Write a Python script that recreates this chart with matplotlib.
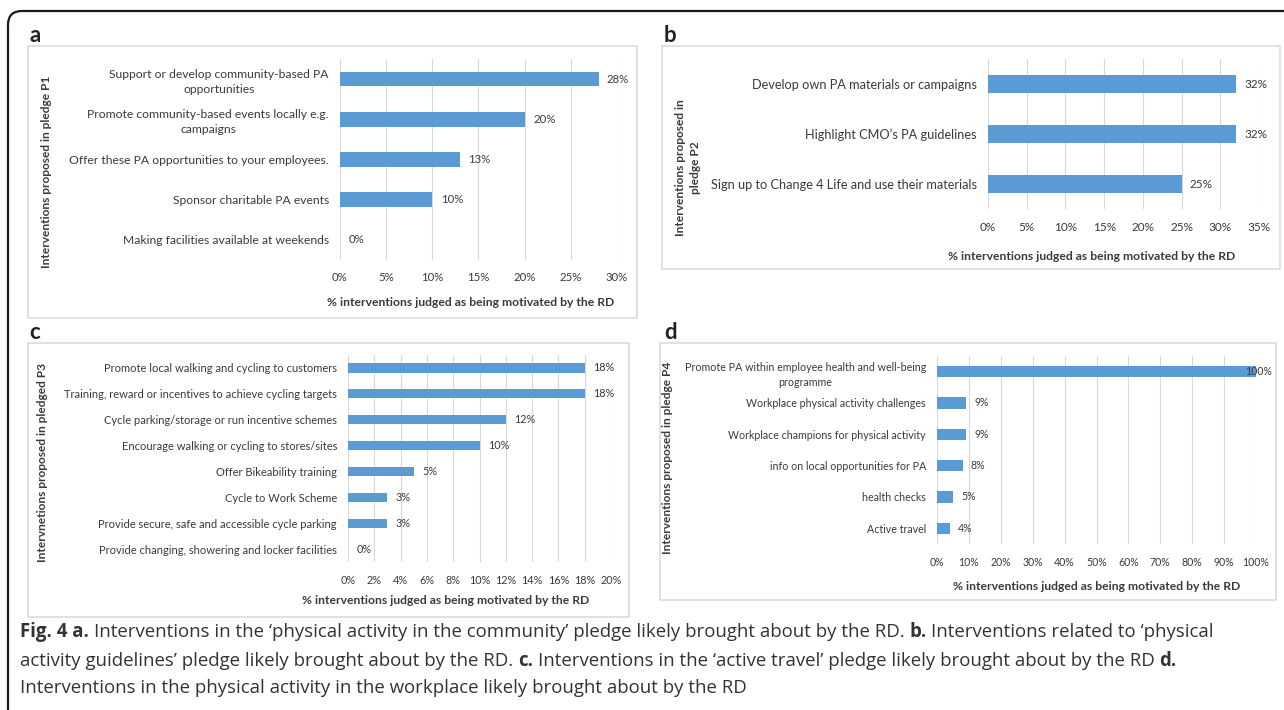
import numpy as np
import matplotlib.pyplot as plt
from matplotlib.patches import Rectangle, FancyBboxPatch
from matplotlib.transforms import IdentityTransform
from matplotlib.ticker import PercentFormatter

# figure is laid out in pixels, origin top-left
W, H = 1284, 710

def fx(px):
    return px / W

def fy(py):
    return 1 - py / H

# a - physical activity in the community (P1)
a_cats = ["Support or develop community-based PA\nopportunities",
          "Promote community-based events locally e.g.\ncampaigns",
          "Offer these PA opportunities to your employees.",
          "Sponsor charitable PA events",
          "Making facilities available at weekends"]
a_vals = [28, 20, 13, 10, 0]

# b - physical activity guidelines (P2)
b_cats = ["Develop own PA materials or campaigns",
          "Highlight CMO\u2019s PA guidelines",
          "Sign up to Change 4 Life and use their materials"]
b_vals = [32, 32, 25]

# c - active travel (P3)
c_cats = ["Promote local walking and cycling to customers",
          "Training, reward or incentives to achieve cycling targets",
          "Cycle parking/storage or run incentive schemes",
          "Encourage walking or cycling to stores/sites",
          "Offer Bikeability training",
          "Cycle to Work Scheme",
          "Provide secure, safe and accessible cycle parking",
          "Provide changing, showering and locker facilities"]
c_vals = [18, 18, 12, 10, 5, 3, 3, 0]

# d - physical activity in the workplace (P4)
d_cats = ["Promote PA within employee health and well-being\nprogramme",
          "Workplace physical activity challenges",
          "Workplace champions for physical activity",
          "info on local opportunities for PA",
          "health checks",
          "Active travel"]
d_vals = [100, 9, 9, 8, 5, 4]

XLAB = "% interventions judged as being motivated by the RD"
BLUE = "#5b9bd5"
GRID = "#d9d9d9"
TXT = "#3a3a3a"
FONT = ["Lato", "DejaVu Sans"]

plt.rcParams['font.family'] = FONT

fig = plt.figure(figsize=(W / 100, H / 100), dpi=100)
fig.patch.set_facecolor("white")


def panel(box, cats, vals, xmax, step, fs, tfs, xlab_x, xlab_y):
    left, top, right, bottom = box
    ax = fig.add_axes([fx(left), fy(bottom), fx(right - left), (bottom - top) / H])
    y = np.arange(len(cats))
    ax.barh(y, vals, height=0.36, color=BLUE, zorder=2)
    ax.set_xlim(0, xmax)
    ax.set_ylim(len(cats) - 0.5, -0.5)
    ax.set_xticks(np.arange(0, xmax + step / 2, step))
    ax.xaxis.set_major_formatter(PercentFormatter(decimals=0))
    ax.set_yticks(y)
    ax.set_yticklabels(cats, multialignment="center", linespacing=1.45)
    ax.grid(axis="x", color=GRID, lw=0.8)
    ax.set_axisbelow(True)
    for s in ax.spines.values():
        s.set_visible(False)
    ax.tick_params(axis="both", length=0, labelcolor=TXT)
    ax.tick_params(axis="y", pad=8, labelsize=fs)
    ax.tick_params(axis="x", pad=9, labelsize=tfs)
    for yi, v in zip(y, vals):
        off = -8 if v >= xmax else 6
        ax.annotate(f"{v}%", (v, yi), xytext=(off, 0), textcoords="offset points",
                    va="center", ha="left", fontsize=tfs, color=TXT)
    fig.text(fx(xlab_x), fy(xlab_y), XLAB, ha="center", va="center",
             fontsize=8.7, fontweight="bold", color=TXT)
    return ax


def frame(x0, y0, x1, y1):
    fig.patches.append(Rectangle((fx(x0), fy(y1)), fx(x1 - x0), (y1 - y0) / H,
                                 transform=fig.transFigure, fill=False,
                                 ec="#dcdcdc", lw=1.2))


# panel boxes and letters
frame(28, 46, 637, 318)
frame(662, 46, 1280, 269)
frame(28, 343, 629, 617)
frame(660, 343, 1276, 600)
for lab, x, y in [("a", 35, 35), ("b", 670, 35), ("c", 35, 332), ("d", 671, 332)]:
    fig.text(fx(x), fy(y), lab, ha="center", va="center", fontsize=16,
             fontweight="bold", color="#222222")

panel((340, 59, 617, 260), a_cats, a_vals, 30, 5, 8.7, 8.2, 471, 302)
panel((988, 59, 1259, 209), b_cats, b_vals, 35, 5, 9.2, 8.5, 1092, 257)
panel((348, 355, 611, 562), c_cats, c_vals, 20, 2, 8.0, 7.8, 446, 601)
panel((937, 356, 1256, 544), d_cats, d_vals, 100, 10, 7.7, 7.6, 1097, 587)

# rotated category-axis titles
ylab = dict(rotation=90, ha="center", va="center", fontsize=8.6,
            fontweight="bold", color=TXT, linespacing=1.5)
fig.text(fx(47), fy(172), "Interventions proposed in pledge P1", **ylab)
fig.text(fx(688), fy(168), "Interventions proposed in\npledge P2", **ylab)
fig.text(fx(43), fy(462), "Intervnetions proposed in pledged P3", **ylab)
fig.text(fx(668), fy(458), "Interventions proposed in pledge P4", **ylab)

# outer rounded frame, running off the right and bottom edges
fig.patches.append(FancyBboxPatch((8, -40), 1340, H - 11 + 40,
                                  boxstyle="round,pad=0,rounding_size=14",
                                  transform=IdentityTransform(), fill=False,
                                  ec="#1a1a1a", lw=1.6))

# caption with bold panel markers
CAP_FONT = ["Open Sans", "DejaVu Sans"]
CAP_SIZE = 13.4
renderer = fig.canvas.get_renderer()


def text_w(s, bold=False):
    t = fig.text(0, 0, s, fontsize=CAP_SIZE, family=CAP_FONT,
                 fontweight="bold" if bold else "normal")
    w = t.get_window_extent(renderer=renderer).width
    t.remove()
    return w


space = text_w("x x") - text_w("xx")


def rich_line(x0, y0, parts):
    x = x0
    for s, bold in parts:
        t = fig.text(fx(x), fy(y0), s, fontsize=CAP_SIZE, family=CAP_FONT,
                     fontweight="bold" if bold else "normal",
                     ha="left", va="center", color="#333333")
        x += t.get_window_extent(renderer=renderer).width + space


rich_line(20, 632, [("Fig. 4 a.", True),
                    ("Interventions in the \u2018physical activity in the community\u2019 pledge likely brought about by the RD.", False),
                    ("b.", True),
                    ("Interventions related to \u2018physical", False)])
rich_line(20, 661, [("activity guidelines\u2019 pledge likely brought about by the RD.", False),
                    ("c.", True),
                    ("Interventions in the \u2018active travel\u2019 pledge likely brought about by the RD", False),
                    ("d.", True)])
rich_line(20, 688, [("Interventions in the physical activity in the workplace likely brought about by the RD", False)])

fig.savefig("out.png", dpi=100)
